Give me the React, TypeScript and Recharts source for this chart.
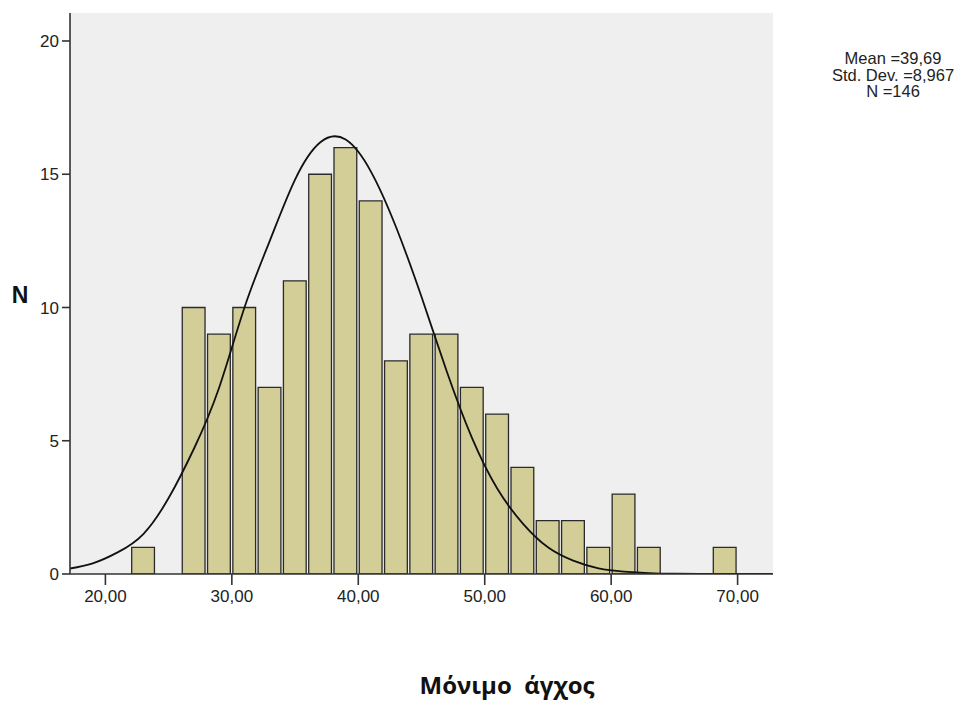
import React from "react"
import {
  ComposedChart,
  Bar,
  Line,
  XAxis,
  YAxis,
  CartesianGrid,
} from "recharts"

// histogram bins (bin centre, count), width 2
const binCenters = [23, 25, 27, 29, 31, 33, 35, 37, 39, 41, 43, 45, 47, 49, 51, 53, 55, 57, 59, 61, 63, 65, 67, 69]
const binCounts = [1, 0, 10, 9, 10, 7, 11, 15, 16, 14, 8, 9, 9, 7, 6, 4, 2, 2, 1, 3, 1, 0, 0, 1]

// fitted normal curve (evenly spaced so the spline stays smooth)
const curveX = [17, 19, 21, 23, 25, 27, 29, 31, 33, 35, 37, 39, 41, 43, 45, 47, 49, 51, 53, 55, 57, 59, 61, 63, 65, 67, 69, 71, 73]
const curveY = [0.19, 0.4, 0.82, 1.5, 2.85, 4.7, 7.0, 10.0, 12.5, 14.8, 16.2, 16.3, 15.1, 13.0, 10.4, 7.6, 5.1, 3.2, 1.9, 1.0, 0.5, 0.21, 0.09, 0.035, 0.01, 0, 0, 0, 0]

const xTicks = [20, 30, 40, 50, 60, 70]
const yTicks = [0, 5, 10, 15, 20]

const statLines = ["Mean =39,69", "Std. Dev. =8,967", "N =146"]
const xTitle = "Μόνιμο  άγχος"
const yTitle = "N"

const X_MIN = 17.2
const X_MAX = 72.8
const Y_MAX = 21.05
const BIN_WIDTH = 2

const W = 962
const H = 703
const PLOT_LEFT = 70
const PLOT_RIGHT = 773
const PLOT_TOP = 13
const PLOT_BOTTOM = 574
const X_AXIS_H = 40

const bins = binCenters.map((x, i) => ({ x, n: binCounts[i] }))
const curve = curveX.map((x, i) => ({ x, y: curveY[i] }))

const barSize = ((PLOT_RIGHT - PLOT_LEFT) / (X_MAX - X_MIN)) * BIN_WIDTH

const tickFont = { fontFamily: "'Liberation Sans', Arial, sans-serif", fontSize: 17, fill: "#222" }
const axisLine = { stroke: "#333", strokeWidth: 1.6 }

const fmtX = (v: number) => v.toFixed(2).replace(".", ",")

export default function App() {
  return (
    <div style={{ position: "absolute", left: 0, top: 0, width: W, height: H, background: "#fff" }}>
      <ComposedChart
        width={W}
        height={H}
        data={bins}
        barCategoryGap={0}
        barGap={0}
        margin={{ top: PLOT_TOP, right: W - PLOT_RIGHT, bottom: H - PLOT_BOTTOM - X_AXIS_H, left: 0 }}
      >
        <CartesianGrid fill="#efefef" horizontal={false} vertical={false} />
        <XAxis
          dataKey="x"
          type="number"
          domain={[X_MIN, X_MAX]}
          allowDataOverflow
          ticks={xTicks}
          tickFormatter={fmtX}
          height={X_AXIS_H}
          tickSize={11}
          tickMargin={5}
          tick={tickFont}
          axisLine={axisLine}
          tickLine={axisLine}
        />
        <XAxis
          xAxisId="curve"
          dataKey="x"
          type="number"
          orientation="top"
          domain={[X_MIN, X_MAX]}
          allowDataOverflow
          height={0}
          tick={false}
          tickLine={false}
          axisLine={axisLine}
        />
        <YAxis
          type="number"
          domain={[0, Y_MAX]}
          allowDataOverflow
          ticks={yTicks}
          width={PLOT_LEFT}
          tickSize={8}
          tickMargin={3}
          tick={tickFont}
          axisLine={axisLine}
          tickLine={axisLine}
        />
        <YAxis
          yAxisId="frame"
          orientation="right"
          type="number"
          domain={[0, Y_MAX]}
          allowDataOverflow
          width={0}
          tick={false}
          tickLine={false}
          axisLine={axisLine}
        />
        <Bar
          dataKey="n"
          fill="#d3ce98"
          stroke="#2a2a2a"
          strokeWidth={1.3}
          barSize={barSize}
          isAnimationActive={false}
        />
        <Line
          xAxisId="curve"
          data={curve}
          dataKey="y"
          type="natural"
          stroke="#111"
          strokeWidth={1.8}
          dot={false}
          activeDot={false}
          isAnimationActive={false}
        />
      </ComposedChart>

      <div
        style={{
          position: "absolute",
          left: 7,
          top: 282,
          width: 26,
          textAlign: "center",
          fontFamily: "'Liberation Sans', Arial, sans-serif",
          fontWeight: "bold",
          fontSize: 23,
          color: "#111",
        }}
      >
        {yTitle}
      </div>

      <div
        style={{
          position: "absolute",
          left: 816,
          top: 50,
          width: 154,
          textAlign: "center",
          fontFamily: "'Liberation Sans', Arial, sans-serif",
          fontSize: 16.5,
          lineHeight: "16.5px",
          color: "#222",
        }}
      >
        {statLines.map((s) => (
          <div key={s}>{s}</div>
        ))}
      </div>

      <div
        style={{
          position: "absolute",
          left: 397,
          top: 668,
          width: 220,
          textAlign: "center",
          fontFamily: "'Open Sans', 'Noto Sans', sans-serif",
          fontWeight: "bold",
          fontSize: 24,
          color: "#111",
          whiteSpace: "pre",
        }}
      >
        {xTitle}
      </div>
    </div>
  )
}
